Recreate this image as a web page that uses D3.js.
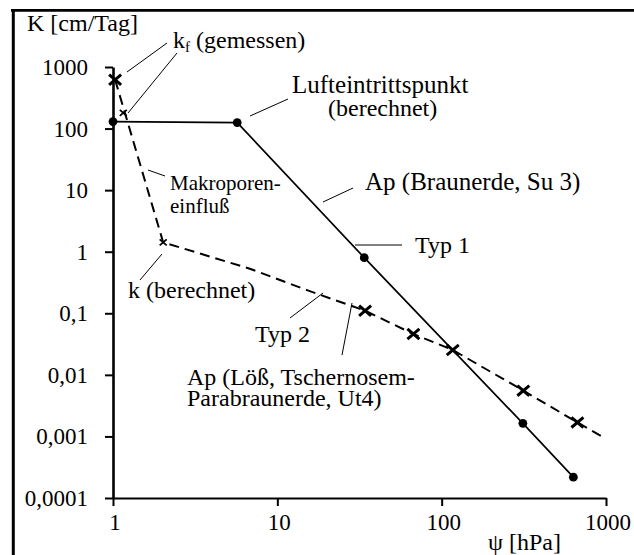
<!DOCTYPE html>
<html>
<head>
<meta charset="utf-8">
<script src="https://cdn.jsdelivr.net/npm/d3@7"></script>
</head>
<body style="margin:0">
<script>
/*DATA
------------------------------------------------------
*/
// Typ 1 : Ap (Braunerde, Su 3), ligne continue + points
const typ1Psi = [1, 5.7, 33.8, 312, 633];
const typ1K   = [130, 125, 0.80, 0.00163, 0.000218];

// Typ 2 : Ap (Löß, Tschernosem-Parabraunerde, Ut4), ligne tiretée
const typ2Psi = [1.03, 2.02, 6.8, 15, 34.2, 67.3, 116.8, 314, 670, 964];
const typ2K   = [620, 1.42, 0.53, 0.24, 0.11, 0.046, 0.0254, 0.00554, 0.00169, 0.00097];

// croix (mesures)
const crossPsi = [1.03, 34.2, 67.3, 116.8, 314, 670];
const crossK   = [620, 0.11, 0.046, 0.0254, 0.00554, 0.00169];

// petites croix
const smallCrossPsi = [1.155, 2.02];
const smallCrossK   = [180, 1.42];

// ticks
const xTicks = [1, 10, 100, 1000];
const xTickLabels = ["1", "10", "100", "1000"];
const yTicks = [0.0001, 0.001, 0.01, 0.1, 1, 10, 100, 1000];
const yTickLabels = ["0,0001", "0,001", "0,01", "0,1", "1", "10", "100", "1000"];

/*SVG, FORMAT
------------------------------------------------------
*/
const width = 634;
const height = 555;

let svg = d3.select("body")
	.append("svg")
	.attr("width", width)
	.attr("height", height);

let x = d3.scaleLog()
	.domain([1, 1000])
	.range([113, 606]);

let y = d3.scaleLog()
	.domain([0.0001, 1000])
	.range([498, 67]);

let label = (px, py, str, size, anchor) => {
	return svg.append("text")
		.attr("x", px)
		.attr("y", py)
		.attr("text-anchor", anchor || "start")
		.attr("font-family", "Liberation Serif")
		.attr("font-size", size)
		.text(str);
};

//cadre
svg.append("line")
	.attr("x1", 11).attr("x2", width)
	.attr("y1", 10.3).attr("y2", 10.3)
	.attr("stroke", "#000").attr("stroke-width", 2.7);
svg.append("line")
	.attr("x1", 13.3).attr("x2", 13.3)
	.attr("y1", 9).attr("y2", height)
	.attr("stroke", "#000").attr("stroke-width", 3);

/*AXES
------------------------------------------------------
*/
let xAxis = svg.append("g")
	.attr("transform", `translate(0,${y(0.0001)})`)
	.call(d3.axisBottom(x).tickValues(xTicks).tickSize(8).tickSizeOuter(0).tickFormat(""));
xAxis.select(".domain").attr("stroke-width", 2);
xAxis.selectAll(".tick line").attr("stroke-width", 2);

let yAxis = svg.append("g")
	.attr("transform", `translate(${x(1)},0)`)
	.call(d3.axisLeft(y).tickValues(yTicks).tickSize(8).tickSizeOuter(0).tickFormat(""));
yAxis.select(".domain").attr("stroke-width", 2.6);
yAxis.selectAll(".tick line").attr("stroke-width", 2);

xTicks.forEach((t, i) => label(x(t) + 2, 530, xTickLabels[i], 23, "middle"));
yTicks.forEach((t, i) => label(88, y(t) + 8, yTickLabels[i], 23, "end"));

label(27, 31, "K [cm/Tag]", 24);
label(488, 550, "ψ [hPa]", 24);

/*COURBES
------------------------------------------------------
*/
let line = d3.line()
	.x(d => x(d[0]))
	.y(d => y(d[1]));

svg.append("path")
	.datum(typ1Psi.map((p, i) => [p, typ1K[i]]))
	.attr("d", line)
	.attr("fill", "none")
	.attr("stroke", "#000")
	.attr("stroke-width", 1.7);

svg.append("path")
	.datum(typ2Psi.map((p, i) => [p, typ2K[i]]))
	.attr("d", line)
	.attr("fill", "none")
	.attr("stroke", "#000")
	.attr("stroke-width", 2)
	.attr("stroke-dasharray", "10,6");

//points
svg.selectAll(".dot")
	.data(typ1Psi.map((p, i) => [p, typ1K[i]]))
	.enter()
	.append("circle")
	.attr("class", "dot")
	.attr("cx", d => x(d[0]))
	.attr("cy", d => y(d[1]))
	.attr("r", 4.4)
	.attr("fill", "#000");

//croix
let cross = (data, size, sw) => {
	svg.selectAll(null)
		.data(data)
		.enter()
		.append("path")
		.attr("transform", d => `translate(${x(d[0])},${y(d[1])})`)
		.attr("d", `M${-size},${-size * 0.85}L${size},${size * 0.85}M${-size},${size * 0.85}L${size},${-size * 0.85}`)
		.attr("stroke", "#000")
		.attr("stroke-width", sw)
		.attr("fill", "none");
};
cross(crossPsi.map((p, i) => [p, crossK[i]]), 6, 3);
cross(smallCrossPsi.map((p, i) => [p, smallCrossK[i]]), 3.5, 1.8);

/*ANNOTATIONS
------------------------------------------------------
*/
const leaders = [
	[167, 43, 127, 72],
	[177, 53, 128, 113],
	[288, 99, 250, 116],
	[353, 188, 323, 202],
	[402, 245, 355, 245],
	[165, 176, 148, 170],
	[140, 280, 162, 254],
	[290, 318, 323, 293],
	[342, 355, 352, 303]
];
svg.selectAll(".leader")
	.data(leaders)
	.enter()
	.append("line")
	.attr("class", "leader")
	.attr("x1", d => d[0]).attr("y1", d => d[1])
	.attr("x2", d => d[2]).attr("y2", d => d[3])
	.attr("stroke", "#000")
	.attr("stroke-width", 1);

//k_f (gemessen)
let kf = label(173, 48, "k", 24);
kf.append("tspan").attr("dy", 4).attr("font-size", 15).text("f");
kf.append("tspan").attr("dy", -4).text(" (gemessen)");

label(292, 93, "Lufteintrittspunkt", 25);
label(328, 116, "(berechnet)", 24);
label(365, 190, "Ap (Braunerde, Su 3)", 25);
label(415, 253, "Typ 1", 24);
label(170, 190, "Makroporen-", 21);
label(170, 213, "einfluß", 21);
label(128, 298, "k (berechnet)", 24);
label(255, 342, "Typ 2", 24);
label(187, 385, "Ap (Löß, Tschernosem-", 24);
label(187, 406, "Parabraunerde, Ut4)", 24);
</script>
</body>
</html>
